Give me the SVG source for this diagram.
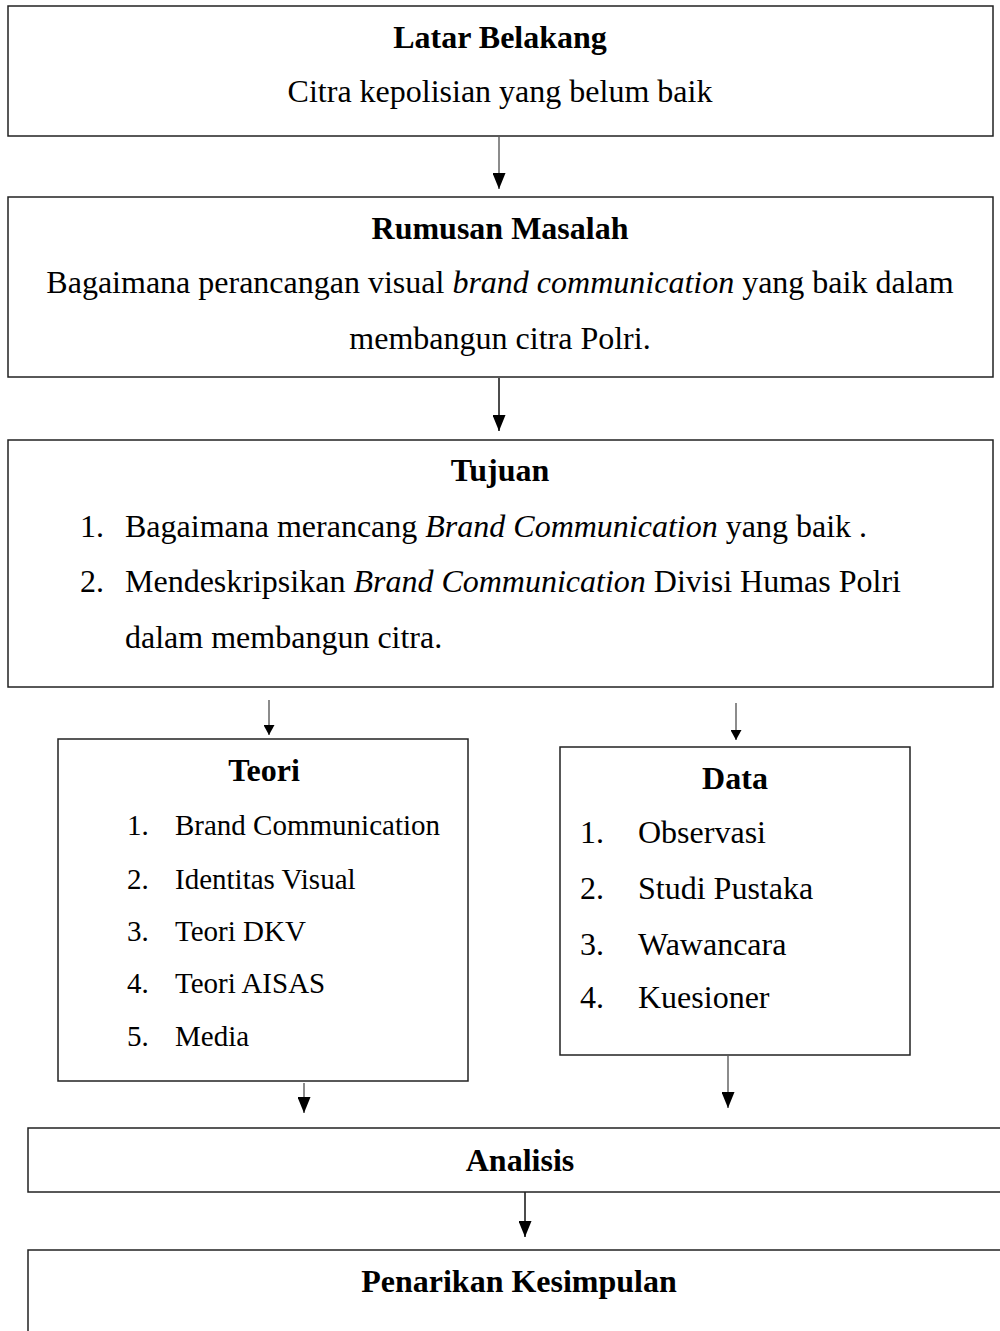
<svg xmlns="http://www.w3.org/2000/svg" width="1000" height="1331" viewBox="0 0 1000 1331">
<style>
.box{fill:#fff;stroke:#222;stroke-width:1.5}
text{font-family:"Liberation Serif","Times New Roman",serif;fill:#000}
.t{font-size:32px;font-weight:bold;text-anchor:middle}
.b{font-size:32px}
.c{text-anchor:middle}
.s{font-size:29px}
.i{font-style:italic}
.con{stroke:#666;stroke-width:1.5;fill:none}
.dk{stroke:#111}
</style>
<defs>
<marker id="big" markerUnits="userSpaceOnUse" viewBox="0 -6.5 16 13" refX="16" refY="0" markerWidth="16" markerHeight="13" orient="auto"><path d="M0,-6.5 L16,0 L0,6.5 Z" fill="#000"/></marker>
<marker id="small" markerUnits="userSpaceOnUse" viewBox="0 -5.5 10 11" refX="10" refY="0" markerWidth="10" markerHeight="11" orient="auto"><path d="M0,-5.5 L10,0 L0,5.5 Z" fill="#000"/></marker>
</defs>
<rect width="1000" height="1331" fill="#fff"/>
<g id="connectors">
<line class="con" x1="499" y1="137" x2="499" y2="189" marker-end="url(#big)"/>
<line class="con dk" x1="499" y1="378" x2="499" y2="431" marker-end="url(#big)"/>
<line class="con" x1="269" y1="700" x2="269" y2="735" marker-end="url(#small)"/>
<line class="con" x1="736" y1="703" x2="736" y2="740" marker-end="url(#small)"/>
<line class="con" x1="304" y1="1083" x2="304" y2="1113" marker-end="url(#big)"/>
<line class="con" x1="728" y1="1056" x2="728" y2="1108" marker-end="url(#big)"/>
<line class="con dk" x1="525" y1="1183" x2="525" y2="1237" marker-end="url(#big)"/>
</g>
<g id="latar">
<rect class="box" x="8" y="6" width="985" height="130"/>
<text class="t" x="500" y="48">Latar Belakang</text>
<text class="b c" x="500" y="102">Citra kepolisian yang belum baik</text>
</g>
<g id="rumusan">
<rect class="box" x="8" y="197" width="985" height="180"/>
<text class="t" x="500" y="239">Rumusan Masalah</text>
<text class="b c" x="500" y="293">Bagaimana perancangan visual <tspan class="i">brand communication</tspan> yang baik dalam</text>
<text class="b c" x="500" y="349">membangun citra Polri.</text>
</g>
<g id="tujuan">
<rect class="box" x="8" y="440" width="985" height="247"/>
<text class="t" x="500" y="481">Tujuan</text>
<text class="b" x="80" y="537">1.</text>
<text class="b" x="125" y="537">Bagaimana merancang <tspan class="i">Brand Communication</tspan> yang baik .</text>
<text class="b" x="80" y="592">2.</text>
<text class="b" x="125" y="592">Mendeskripsikan <tspan class="i">Brand Communication</tspan> Divisi Humas Polri</text>
<text class="b" x="125" y="648">dalam membangun citra.</text>
</g>
<g id="teori">
<rect class="box" x="58" y="739" width="410" height="342"/>
<text class="t" x="264" y="781">Teori</text>
<text class="s" x="127" y="835">1.</text><text class="s" x="175" y="835">Brand Communication</text>
<text class="s" x="127" y="889">2.</text><text class="s" x="175" y="889">Identitas Visual</text>
<text class="s" x="127" y="941">3.</text><text class="s" x="175" y="941">Teori DKV</text>
<text class="s" x="127" y="993">4.</text><text class="s" x="175" y="993">Teori AISAS</text>
<text class="s" x="127" y="1046">5.</text><text class="s" x="175" y="1046">Media</text>
</g>
<g id="data">
<rect class="box" x="560" y="747" width="350" height="308"/>
<text class="t" x="735" y="789">Data</text>
<text class="b" x="580" y="843">1.</text><text class="b" x="638" y="843">Observasi</text>
<text class="b" x="580" y="899">2.</text><text class="b" x="638" y="899">Studi Pustaka</text>
<text class="b" x="580" y="955">3.</text><text class="b" x="638" y="955">Wawancara</text>
<text class="b" x="580" y="1008">4.</text><text class="b" x="638" y="1008">Kuesioner</text>
</g>
<g id="analisis">
<rect class="box" x="28" y="1128" width="990" height="64"/>
<text class="t" x="520" y="1171">Analisis</text>
</g>
<g id="penarikan">
<rect class="box" x="28" y="1250" width="990" height="100"/>
<text class="t" x="519" y="1292">Penarikan Kesimpulan</text>
</g>
</svg>
